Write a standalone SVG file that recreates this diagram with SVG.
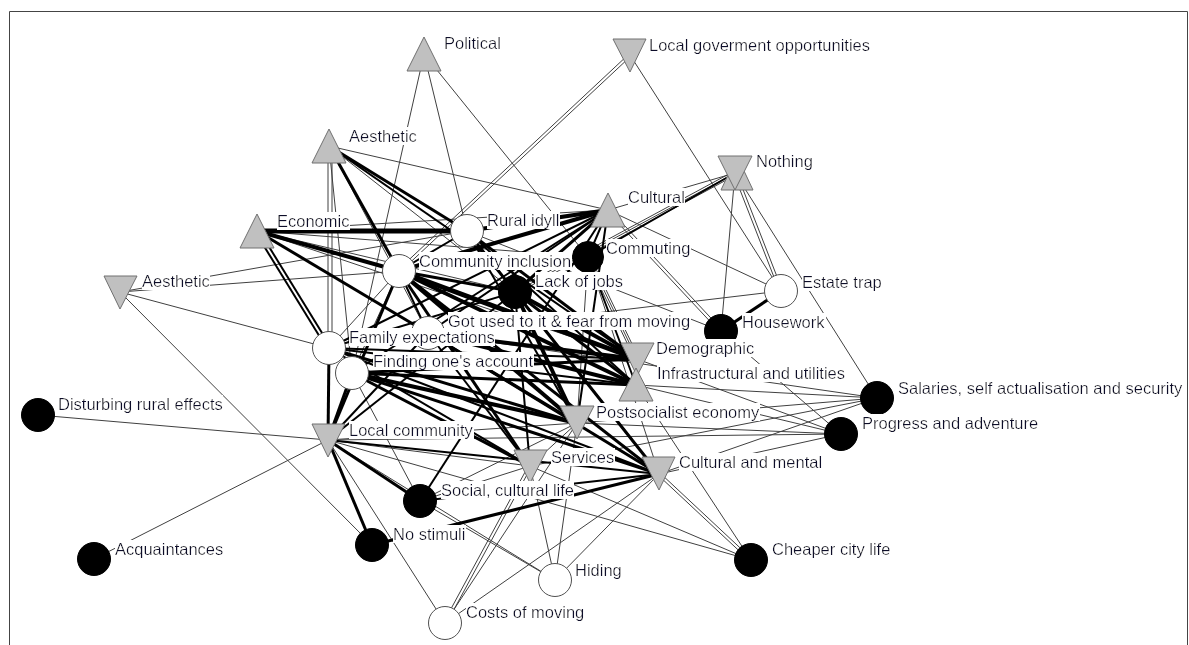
<svg xmlns="http://www.w3.org/2000/svg" width="1189" height="645" viewBox="0 0 1189 645">
<defs>
<style>
.t{stroke:#404040;stroke-width:1;fill:none}
.k2{stroke:#000;stroke-width:2}
.k3{stroke:#000;stroke-width:3}
.k4{stroke:#000;stroke-width:4}
.k5{stroke:#000;stroke-width:5}
.tri{fill:#c0c0c0;stroke:#707070;stroke-width:1}
.wc{fill:#fff;stroke:#505050;stroke-width:1}
.bc{fill:#000;stroke:#000;stroke-width:1}
.lb{font-family:"Liberation Sans",Arial,sans-serif;font-size:16.5px;fill:#10102a}
</style>
<filter id="bg" x="0" y="0" width="1" height="1"><feFlood flood-color="#fff" result="f"/><feComposite in="SourceGraphic" in2="f" operator="over"/></filter>
</defs>
<rect x="0" y="0" width="1189" height="645" fill="#fff"/>
<path d="M9.5 645 V11.5 H1187.5 V645" fill="none" stroke="#444" stroke-width="1"/>
<g id="edges">
<g class="t">
<line x1="424" y1="54" x2="467" y2="231"/>
<line x1="424" y1="54" x2="588" y2="257"/>
<line x1="424" y1="54" x2="352" y2="373"/>
<line x1="631" y1="56" x2="400" y2="272"/>
<line x1="629" y1="54" x2="398" y2="270"/>
<line x1="630" y1="55" x2="781" y2="291"/>
<line x1="735" y1="173" x2="608" y2="210"/>
<line x1="735" y1="173" x2="515" y2="292"/>
<line x1="736" y1="174.8" x2="516" y2="293.8"/>
<line x1="734" y1="171.2" x2="514" y2="290.2"/>
<line x1="736.4" y1="172.5" x2="782.4" y2="290.5"/>
<line x1="733.6" y1="173.5" x2="779.6" y2="291.5"/>
<line x1="735" y1="173" x2="877" y2="398"/>
<line x1="735" y1="173" x2="721" y2="331"/>
<line x1="608" y1="210" x2="781" y2="291"/>
<line x1="609.1" y1="209" x2="722.1" y2="330"/>
<line x1="606.9" y1="211" x2="719.9" y2="332"/>
<line x1="467" y1="231" x2="721" y2="331"/>
<line x1="781" y1="291" x2="428" y2="333"/>
<line x1="721" y1="331" x2="841" y2="434"/>
<line x1="120" y1="292" x2="467" y2="231"/>
<line x1="120" y1="292" x2="399" y2="271"/>
<line x1="120" y1="292" x2="329" y2="348"/>
<line x1="120" y1="292" x2="372" y2="545"/>
<line x1="328" y1="146" x2="328" y2="348"/>
<line x1="332" y1="146" x2="332" y2="348"/>
<line x1="329" y1="146" x2="352" y2="373"/>
<line x1="329" y1="146" x2="515" y2="292"/>
<line x1="329" y1="146" x2="608" y2="210"/>
<line x1="329" y1="146" x2="428" y2="333"/>
<line x1="257" y1="231" x2="608" y2="210"/>
<line x1="257" y1="231" x2="515" y2="292"/>
<line x1="257" y1="231" x2="637" y2="359"/>
<line x1="257" y1="231" x2="588" y2="257"/>
<line x1="38" y1="415" x2="328" y2="440"/>
<line x1="94" y1="559" x2="328" y2="440"/>
<line x1="328" y1="440" x2="445" y2="623"/>
<line x1="328" y1="440" x2="555" y2="580"/>
<line x1="328" y1="440" x2="530" y2="466"/>
<line x1="328" y1="440" x2="577" y2="423"/>
<line x1="328" y1="440" x2="841" y2="434"/>
<line x1="328" y1="440" x2="751" y2="560"/>
<line x1="420" y1="501" x2="555" y2="580"/>
<line x1="420" y1="501" x2="530" y2="466"/>
<line x1="420" y1="501" x2="577" y2="423"/>
<line x1="420" y1="501" x2="352" y2="373"/>
<line x1="446.3" y1="623.7" x2="531.3" y2="466.7"/>
<line x1="443.7" y1="622.3" x2="528.7" y2="465.3"/>
<line x1="445" y1="623" x2="659" y2="474"/>
<line x1="445" y1="623" x2="577" y2="423"/>
<line x1="555" y1="580" x2="530" y2="466"/>
<line x1="555" y1="580" x2="577" y2="423"/>
<line x1="555" y1="580" x2="659" y2="474"/>
<line x1="752" y1="559" x2="660" y2="473"/>
<line x1="750" y1="561" x2="658" y2="475"/>
<line x1="751" y1="560" x2="530" y2="466"/>
<line x1="751" y1="560" x2="636" y2="385"/>
<line x1="659" y1="474" x2="841" y2="434"/>
<line x1="659" y1="474" x2="877" y2="398"/>
<line x1="577" y1="423" x2="877" y2="398"/>
<line x1="577" y1="423" x2="841" y2="434"/>
<line x1="636" y1="385" x2="877" y2="398"/>
<line x1="636" y1="385" x2="841" y2="434"/>
<line x1="530" y1="466" x2="877" y2="398"/>
<line x1="637" y1="359" x2="841" y2="434"/>
<line x1="428" y1="333" x2="877" y2="398"/>
<line x1="588" y1="257" x2="637" y2="359"/>
<line x1="589.8" y1="256.1" x2="638.8" y2="358.1"/>
<line x1="586.2" y1="257.9" x2="635.2" y2="359.9"/>
<line x1="588" y1="257" x2="577" y2="423"/>
<line x1="588" y1="257" x2="659" y2="474"/>
<line x1="530" y1="466" x2="577" y2="423"/>
<line x1="329" y1="348" x2="399" y2="271"/>
<line x1="352" y1="373" x2="399" y2="271"/>
</g>
<g class="k2">
<line x1="735" y1="173" x2="588" y2="257"/>
<line x1="329" y1="146" x2="637" y2="359"/>
<line x1="258.7" y1="230" x2="330.7" y2="347"/>
<line x1="255.3" y1="232" x2="327.3" y2="349"/>
<line x1="328" y1="440" x2="428" y2="333"/>
<line x1="328" y1="440" x2="515" y2="292"/>
<line x1="328" y1="440" x2="659" y2="474"/>
<line x1="420" y1="501" x2="659" y2="474"/>
<line x1="420" y1="501" x2="608" y2="210"/>
<line x1="399" y1="271" x2="428" y2="333"/>
<line x1="399" y1="271" x2="467" y2="231"/>
<line x1="515" y1="292" x2="530" y2="466"/>
<line x1="428" y1="333" x2="530" y2="466"/>
<line x1="428" y1="333" x2="608" y2="210"/>
<line x1="352" y1="373" x2="608" y2="210"/>
<line x1="329" y1="348" x2="636" y2="385"/>
<line x1="329" y1="348" x2="530" y2="466"/>
<line x1="329" y1="348" x2="659" y2="474"/>
<line x1="329" y1="348" x2="637" y2="359"/>
<line x1="329" y1="348" x2="608" y2="210"/>
<line x1="329" y1="348" x2="515" y2="292"/>
<line x1="467" y1="231" x2="577" y2="423"/>
<line x1="467" y1="231" x2="659" y2="474"/>
<line x1="467" y1="231" x2="636" y2="385"/>
<line x1="608" y1="210" x2="577" y2="423"/>
<line x1="588" y1="257" x2="636" y2="385"/>
<line x1="588" y1="257" x2="608" y2="210"/>
</g>
<g class="k3">
<line x1="329" y1="146" x2="399" y2="271"/>
<line x1="329" y1="146" x2="467" y2="231"/>
<line x1="257" y1="231" x2="428" y2="333"/>
<line x1="328" y1="440" x2="329" y2="348"/>
<line x1="328" y1="440" x2="352" y2="373"/>
<line x1="328" y1="440" x2="399" y2="271"/>
<line x1="328" y1="440" x2="420" y2="501"/>
<line x1="328" y1="440" x2="372" y2="545"/>
<line x1="372" y1="545" x2="659" y2="474"/>
<line x1="399" y1="271" x2="659" y2="474"/>
<line x1="399" y1="271" x2="530" y2="466"/>
<line x1="399" y1="271" x2="515" y2="292"/>
<line x1="515" y1="292" x2="636" y2="385"/>
<line x1="515" y1="292" x2="659" y2="474"/>
<line x1="515" y1="292" x2="608" y2="210"/>
<line x1="515" y1="292" x2="467" y2="231"/>
<line x1="428" y1="333" x2="577" y2="423"/>
<line x1="428" y1="333" x2="659" y2="474"/>
<line x1="352" y1="373" x2="637" y2="359"/>
<line x1="352" y1="373" x2="636" y2="385"/>
<line x1="352" y1="373" x2="659" y2="474"/>
<line x1="352" y1="373" x2="530" y2="466"/>
<line x1="329" y1="348" x2="577" y2="423"/>
<line x1="467" y1="231" x2="637" y2="359"/>
<line x1="781" y1="291" x2="721" y2="331"/>
</g>
<g class="k4">
<line x1="257" y1="231" x2="399" y2="271"/>
<line x1="399" y1="271" x2="636" y2="385"/>
<line x1="399" y1="271" x2="577" y2="423"/>
<line x1="399" y1="271" x2="608" y2="210"/>
<line x1="515" y1="292" x2="637" y2="359"/>
<line x1="515" y1="292" x2="577" y2="423"/>
<line x1="428" y1="333" x2="637" y2="359"/>
<line x1="428" y1="333" x2="636" y2="385"/>
<line x1="352" y1="373" x2="577" y2="423"/>
<line x1="467" y1="231" x2="608" y2="210"/>
</g>
<g class="k5">
<line x1="257" y1="231" x2="467" y2="231"/>
<line x1="399" y1="271" x2="637" y2="359"/>
</g>
</g>
<g id="n-political"><polygon class="tri" points="424,37 441,71 407,71"/><text class="lb" filter="url(#bg)" x="444" y="49">Political</text></g>
<g id="n-localgov"><polygon class="tri" points="613,39 646,39 630,72"/><text class="lb" filter="url(#bg)" x="649" y="51">Local goverment opportunities</text></g>
<g id="n-aesthetic-up"><polygon class="tri" points="329,129 346,163 312,163"/><text class="lb" filter="url(#bg)" x="349" y="142">Aesthetic</text></g>
<g id="n-nothing"><polygon class="tri" points="737,156 753,190 721,190"/><polygon class="tri" points="718,156 752,156 735,190"/><text class="lb" filter="url(#bg)" x="756" y="167">Nothing</text></g>
<g id="n-cultural"><polygon class="tri" points="608,193 625,227 591,227"/><text class="lb" filter="url(#bg)" x="628" y="203">Cultural</text></g>
<g id="n-economic"><polygon class="tri" points="257,214 274,248 240,248"/><text class="lb" filter="url(#bg)" x="277" y="227">Economic</text></g>
<g id="n-rural"><circle class="wc" cx="467" cy="231" r="16.5"/><text class="lb" filter="url(#bg)" x="487" y="226">Rural idyll</text></g>
<g id="n-commuting"><circle class="bc" cx="588" cy="257" r="15.5"/><text class="lb" filter="url(#bg)" x="606" y="254">Commuting</text></g>
<g id="n-community"><circle class="wc" cx="399" cy="271" r="16.5"/><text class="lb" filter="url(#bg)" x="419" y="267">Community inclusion</text></g>
<g id="n-aesthetic-down"><polygon class="tri" points="104,276 137,276 120,309"/><text class="lb" filter="url(#bg)" x="142" y="287">Aesthetic</text></g>
<g id="n-lackjobs"><circle class="bc" cx="515" cy="292" r="16.5"/><text class="lb" filter="url(#bg)" x="535" y="287">Lack of jobs</text></g>
<g id="n-estate"><circle class="wc" cx="781" cy="291" r="16.5"/><text class="lb" filter="url(#bg)" x="802" y="288">Estate trap</text></g>
<g id="n-gotused"><circle class="wc" cx="428" cy="333" r="16.5"/><text class="lb" filter="url(#bg)" x="448" y="327">Got used to it &amp; fear from moving</text></g>
<g id="n-housework"><circle class="bc" cx="721" cy="331" r="16.5"/><text class="lb" filter="url(#bg)" x="742" y="328">Housework</text></g>
<g id="n-family"><circle class="wc" cx="329" cy="348" r="16.5"/><text class="lb" filter="url(#bg)" x="349" y="343">Family expectations</text></g>
<g id="n-demographic"><polygon class="tri" points="621,343 654,343 637,376"/><text class="lb" filter="url(#bg)" x="656" y="354">Demographic</text></g>
<g id="n-finding"><circle class="wc" cx="352" cy="373" r="16.5"/><text class="lb" filter="url(#bg)" x="373" y="367">Finding one's account</text></g>
<g id="n-infra"><polygon class="tri" points="636,368 653,401 619,401"/><text class="lb" filter="url(#bg)" x="657" y="379">Infrastructural and utilities</text></g>
<g id="n-salaries"><circle class="bc" cx="877" cy="398" r="16.5"/><text class="lb" filter="url(#bg)" x="898" y="394">Salaries, self actualisation and security</text></g>
<g id="n-disturbing"><circle class="bc" cx="38" cy="415" r="16.5"/><text class="lb" filter="url(#bg)" x="58" y="410">Disturbing rural effects</text></g>
<g id="n-postsoc"><polygon class="tri" points="560,406 594,406 577,439"/><text class="lb" filter="url(#bg)" x="596" y="418">Postsocialist economy</text></g>
<g id="n-progress"><circle class="bc" cx="841" cy="434" r="16.5"/><text class="lb" filter="url(#bg)" x="862" y="429">Progress and adventure</text></g>
<g id="n-localcomm"><polygon class="tri" points="312,424 345,424 328,457"/><text class="lb" filter="url(#bg)" x="349" y="436">Local community</text></g>
<g id="n-services"><polygon class="tri" points="514,450 547,450 530,483"/><text class="lb" filter="url(#bg)" x="551" y="463">Services</text></g>
<g id="n-culturalmental"><polygon class="tri" points="642,457 675,457 659,490"/><text class="lb" filter="url(#bg)" x="679" y="468">Cultural and mental</text></g>
<g id="n-social"><circle class="bc" cx="420" cy="501" r="16.5"/><text class="lb" filter="url(#bg)" x="441" y="496">Social, cultural life</text></g>
<g id="n-nostimuli"><circle class="bc" cx="372" cy="545" r="16.5"/><text class="lb" filter="url(#bg)" x="393" y="540">No stimuli</text></g>
<g id="n-acquaint"><circle class="bc" cx="94" cy="559" r="16.5"/><text class="lb" filter="url(#bg)" x="115" y="555">Acquaintances</text></g>
<g id="n-cheaper"><circle class="bc" cx="751" cy="560" r="16.5"/><text class="lb" filter="url(#bg)" x="772" y="555">Cheaper city life</text></g>
<g id="n-hiding"><circle class="wc" cx="555" cy="580" r="16.5"/><text class="lb" filter="url(#bg)" x="575" y="576">Hiding</text></g>
<g id="n-costs"><circle class="wc" cx="445" cy="623" r="16.5"/><text class="lb" filter="url(#bg)" x="466" y="618">Costs of moving</text></g>
</svg>
